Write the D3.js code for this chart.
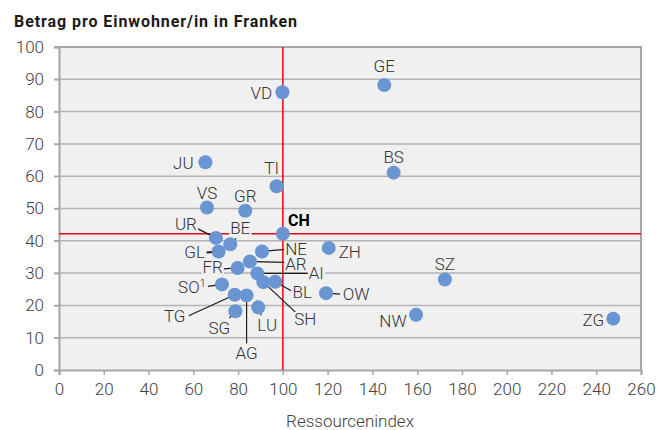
<!DOCTYPE html>
<html>
<head>
<meta charset="utf-8">
<script src="https://cdn.jsdelivr.net/npm/d3@7"></script>
<style>
body { margin: 0; background: #fff; }
text { font-family: Roboto, "Open Sans", sans-serif; }
</style>
</head>
<body>
<div id="chart"></div>
<script>
// data
var cantons = ["VD","GE","JU","TI","BS","VS","GR","CH","UR","BE","GL","NE","ZH","AR","FR","AI","SO","SH","BL","OW","TG","AG","LU","SG","SZ","NW","ZG"];
var ressourcenindex = [99.8,145.3,65.4,97.2,149.5,66.1,83.2,100,70.1,76.5,71.3,90.7,120.5,85.3,79.8,88.6,72.8,91.3,96.6,119.3,78.5,83.8,89.0,78.8,172.4,159.5,247.6];
var betrag = [86.0,88.2,64.3,56.9,61.1,50.3,49.3,42.2,40.9,38.9,36.7,36.7,37.8,33.6,31.6,29.9,26.5,27.2,27.3,23.8,23.3,23.1,19.4,18.2,28.0,17.1,15.9];
var xTicks = [0,20,40,60,80,100,120,140,160,180,200,220,240,260];
var yTicks = [0,10,20,30,40,50,60,70,80,90,100];

// label placement (pixel offsets from the point), leader line end offsets
var labelPos = {
	VD:[-21,1], GE:[0,-19], JU:[-22,1], TI:[-5,-18], BS:[0,-16], VS:[0,-15], GR:[0,-15],
	CH:[16,-13], UR:[-30,-14], BE:[10,-16], GL:[-24,1], NE:[34,-2], ZH:[21,4],
	AR:[46,3], FR:[-25,-1], AI:[59,0], SO:[-30,3], SH:[42,37], BL:[27,10], OW:[30,1],
	TG:[-60,21], AG:[0,58], LU:[9,18], SG:[-16,17], SZ:[0,-16], NW:[-23,6], ZG:[-20,1]
};
var leaders = {
	UR:[-18,-9], BE:[6,-6], GL:[-12,1], NE:[23,-2], AR:[35,1], FR:[-14,1], AI:[51,0],
	SO:[-14,2], SH:[32,30], BL:[16,9], OW:[14,1], TG:[-46,21], AG:[0,48], LU:[3,8], SG:[-6,7]
};

var width = 672, height = 430;
var margin = {top: 47, right: 31, bottom: 60, left: 59};

var svg = d3.select("#chart").append("svg")
	.attr("width", width)
	.attr("height", height);

var x = d3.scaleLinear().domain([0, 260]).range([margin.left, width - margin.right]);
var y = d3.scaleLinear().domain([0, 100]).range([height - margin.bottom, margin.top]);

// plot background
svg.append("rect")
	.attr("x", x(0)).attr("y", y(100))
	.attr("width", x(260) - x(0)).attr("height", y(0) - y(100))
	.attr("fill", "#f0f0f0");

// horizontal gridlines
svg.selectAll(".grid").data(yTicks.filter(function(d){ return d > 0; })).enter()
	.append("line")
	.attr("x1", x(0) - 5).attr("x2", x(260))
	.attr("y1", function(d){ return y(d); }).attr("y2", function(d){ return y(d); })
	.attr("stroke", "#b3b3b3").attr("stroke-width", 1.5);

// axes
var xAxis = svg.append("g")
	.attr("transform", "translate(0," + y(0) + ")")
	.call(d3.axisBottom(x).tickValues(xTicks).tickSize(5).tickPadding(8));
var yAxis = svg.append("g")
	.attr("transform", "translate(" + x(0) + ",0)")
	.call(d3.axisLeft(y).tickValues(yTicks).tickSize(5).tickPadding(10));
[xAxis, yAxis].forEach(function(a){
	a.select(".domain").attr("stroke", "#a6a6a6").attr("stroke-width", 2);
	a.selectAll(".tick line").attr("stroke", "#a6a6a6").attr("stroke-width", 1.5);
	a.selectAll(".tick text").attr("fill", "#404040").attr("font-size", 17).attr("font-weight", 300);
});
// top and right border
svg.append("path")
	.attr("d", "M" + x(0) + "," + y(100) + "H" + x(260) + "V" + y(0))
	.attr("fill", "none").attr("stroke", "#a6a6a6").attr("stroke-width", 2);

// CH reference lines
var chIdx = cantons.indexOf("CH");
svg.append("line")
	.attr("x1", x(ressourcenindex[chIdx])).attr("x2", x(ressourcenindex[chIdx]))
	.attr("y1", y(100)).attr("y2", y(0))
	.attr("stroke", "#e30613").attr("stroke-width", 1.5);
svg.append("line")
	.attr("x1", x(0)).attr("x2", x(260))
	.attr("y1", y(betrag[chIdx])).attr("y2", y(betrag[chIdx]))
	.attr("stroke", "#e30613").attr("stroke-width", 1.5);

var pts = cantons.map(function(c, i){
	return {name: c, px: x(ressourcenindex[i]), py: y(betrag[i])};
});

// labels (background first, so the lines are broken behind the text)
var labels = svg.append("g");
pts.forEach(function(p){
	var o = labelPos[p.name];
	var t = labels.append("text")
		.attr("x", p.px + o[0]).attr("y", p.py + o[1])
		.attr("text-anchor", "middle")
		.attr("dominant-baseline", "central")
		.attr("font-size", p.name == "CH" ? 16 : 17)
		.attr("font-weight", p.name == "CH" ? 700 : 300)
		.attr("fill", p.name == "CH" ? "#000" : "#333")
		.text(p.name);
	if (p.name == "SO") {
		t.append("tspan").attr("font-size", 11).attr("dy", -4).text("1");
	}
});
labels.selectAll("text").each(function(){
	var b = this.getBBox();
	labels.insert("rect", "text")
		.attr("x", b.x - 1).attr("y", b.y + 3)
		.attr("width", b.width + 2).attr("height", b.height - 6)
		.attr("fill", "#f0f0f0");
});

// leader lines
pts.forEach(function(p){
	var l = leaders[p.name];
	if (!l) return;
	svg.append("line")
		.attr("x1", p.px).attr("y1", p.py)
		.attr("x2", p.px + l[0]).attr("y2", p.py + l[1])
		.attr("stroke", "#1a1a1a").attr("stroke-width", p.name == "GL" ? 2 : 1.2);
});

// points
svg.selectAll(".pt").data(pts).enter()
	.append("circle")
	.attr("cx", function(d){ return d.px; })
	.attr("cy", function(d){ return d.py; })
	.attr("r", 7)
	.attr("fill", "#6a95d3");

labels.raise();
labels.selectAll("rect").lower();
svg.selectAll("circle").raise();
labels.selectAll("text").raise();

// titles
svg.append("text")
	.attr("x", 14).attr("y", 27)
	.attr("font-size", 16).attr("font-weight", 700).attr("fill", "#1a1a1a")
	.attr("textLength", 283).attr("lengthAdjust", "spacing")
	.text("Betrag pro Einwohner/in in Franken");
svg.append("text")
	.attr("x", (x(0) + x(260)) / 2).attr("y", 427)
	.attr("text-anchor", "middle")
	.attr("font-size", 17).attr("font-weight", 300).attr("fill", "#404040")
	.text("Ressourcenindex");
</script>
</body>
</html>
